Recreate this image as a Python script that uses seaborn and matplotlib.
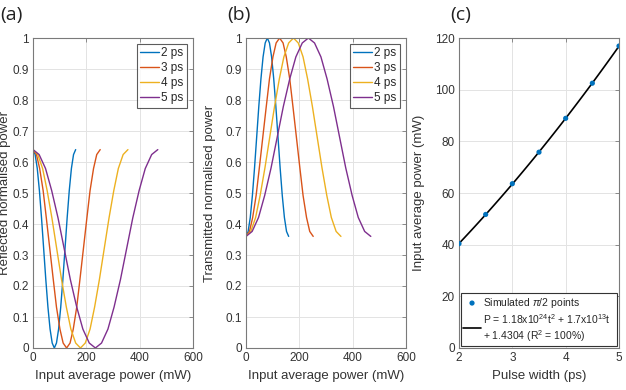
import numpy as np
import pandas as pd
import matplotlib
matplotlib.use("Agg")
import matplotlib.pyplot as plt
import seaborn as sns

# Durées d'impulsion et couleurs (palette MATLAB)
pulses = ["2 ps", "3 ps", "4 ps", "5 ps"]
colors = ["#0072BD", "#D95319", "#EDB120", "#7E2F8E"]

# Puissance moyenne d'entrée (mW) (a) et (b)
power_2ps = [0, 8, 16, 24, 32, 40, 48, 56, 64, 72, 80, 88, 96, 104, 112, 120, 128, 136, 144, 152, 160]
power_3ps = [0, 13, 25, 38, 50, 63, 76, 88, 101, 113, 126, 139, 151, 164, 176, 189, 202, 214, 227, 239, 252]
power_4ps = [0, 18, 36, 53, 71, 89, 107, 125, 142, 160, 178, 196, 214, 231, 249, 267, 285, 303, 320, 338, 356]
power_5ps = [0, 23, 47, 70, 94, 117, 140, 164, 187, 211, 234, 257, 281, 304, 328, 351, 374, 398, 421, 445, 468]

# Puissance normalisée (même profil pour chaque durée)
reflected = [0.640, 0.624, 0.579, 0.508, 0.419, 0.320, 0.221, 0.132, 0.061, 0.016, 0.000,
             0.016, 0.061, 0.132, 0.221, 0.320, 0.419, 0.508, 0.579, 0.624, 0.640]
transmitted = [0.360, 0.376, 0.421, 0.492, 0.581, 0.680, 0.779, 0.868, 0.939, 0.984, 1.000,
               0.984, 0.939, 0.868, 0.779, 0.680, 0.581, 0.492, 0.421, 0.376, 0.360]

# Points pi/2 simulés (c)
pulse_width = [2.0, 2.5, 3.0, 3.5, 4.0, 4.5, 5.0]
pi2_power = [40.4, 51.7, 63.6, 75.8, 88.9, 102.5, 116.9]

sns.set_theme(style="whitegrid")
plt.rcParams['font.family'] = ['Liberation Sans', 'DejaVu Sans']
plt.rcParams['mathtext.fontset'] = 'custom'
plt.rcParams['mathtext.rm'] = 'Liberation Sans'
plt.rcParams['mathtext.it'] = 'Liberation Sans:italic'

rows = []
for label, pw in zip(pulses, [power_2ps, power_3ps, power_4ps, power_5ps]):
    for p, r, t in zip(pw, reflected, transmitted):
        rows.append({'Pulse': label, 'Power': p, 'Reflected': r, 'Transmitted': t})
df = pd.DataFrame(rows)

fig = plt.figure(figsize=(6.26, 3.9), dpi=100)
W, H = 626, 390
def add_ax(x0, x1, y0=38, y1=348):
    return fig.add_axes([x0 / W, 1 - y1 / H, (x1 - x0) / W, (y1 - y0) / H])

ax_a = add_ax(33, 193)
ax_b = add_ax(246, 406)
ax_c = add_ax(459, 619)

def style(ax):
    ax.set_facecolor('white')
    ax.grid(True, color='#e3e3e3', linewidth=0.7)
    for s in ax.spines.values():
        s.set_color('#7a7a7a')
        s.set_linewidth(0.8)
    ax.tick_params(direction='in', length=3, width=0.6, color='#7a7a7a',
                   top=True, right=True, labelsize=8.5, labelcolor='#333333', pad=3)

# (a) puissance réfléchie
sns.lineplot(data=df, x='Power', y='Reflected', hue='Pulse', palette=colors, sort=False,
             linewidth=1.0, ax=ax_a)
# (b) puissance transmise
sns.lineplot(data=df, x='Power', y='Transmitted', hue='Pulse', palette=colors, sort=False,
             linewidth=1.0, ax=ax_b)

for ax, ylab, lx in [(ax_a, 'Reflected normalised power', -0.135),
                     (ax_b, 'Transmitted normalised power', -0.19)]:
    ax.set_xlim(0, 600)
    ax.set_ylim(0, 1)
    ax.set_xticks([0, 200, 400, 600])
    ax.set_yticks(np.arange(0, 1.01, 0.1))
    ax.set_yticklabels(['0', '0.1', '0.2', '0.3', '0.4', '0.5', '0.6', '0.7', '0.8', '0.9', '1'])
    ax.set_xlabel('Input average power (mW)', fontsize=9.5, color='#333333')
    ax.set_ylabel(ylab, fontsize=9.5, color='#333333')
    ax.yaxis.set_label_coords(lx, 0.5)
    style(ax)
    leg = ax.legend(loc='upper right', fontsize=8.5, frameon=True, fancybox=False,
                    handlelength=1.6, handletextpad=0.2, borderpad=0.3, labelspacing=0.25,
                    borderaxespad=0.5, edgecolor='#333333')
    leg.get_frame().set_linewidth(0.8)

# (c) points pi/2 et ajustement quadratique
sns.regplot(x=pulse_width, y=pi2_power, order=2, ci=None, scatter=False,
            line_kws={'color': 'black', 'linewidth': 1.2}, ax=ax_c,
            label='P = 1.18x10$^{24}$t$^2$ + 1.7x10$^{13}$t\n+ 1.4304 (R$^2$ = 100%)')
sns.scatterplot(x=pulse_width, y=pi2_power, color='#0072BD', s=14, edgecolor='none',
                ax=ax_c, label='Simulated $\\pi$/2 points', zorder=5)
ax_c.set_xlim(2, 5)
ax_c.set_ylim(0, 120)
ax_c.set_xticks([2, 3, 4, 5])
ax_c.set_yticks(np.arange(0, 121, 20))
ax_c.set_xlabel('Pulse width (ps)', fontsize=9.5, color='#333333')
ax_c.set_ylabel('Input average power (mW)', fontsize=9.5, color='#333333')
ax_c.yaxis.set_label_coords(-0.21, 0.5)
style(ax_c)
h, l = ax_c.get_legend_handles_labels()
leg = ax_c.legend(h[::-1], l[::-1], loc='lower left', bbox_to_anchor=(0, 0, 1, 1), mode='expand',
                  fontsize=7.5, frameon=True, fancybox=False, handlelength=1.7,
                  handletextpad=0.25, borderpad=0.25, labelspacing=0.2, borderaxespad=0.15,
                  edgecolor='#333333', framealpha=1)
leg.get_frame().set_linewidth(0.8)

# Étiquettes des panneaux
for x, txt in [(0, '(a)'), (227, '(b)'), (450, '(c)')]:
    fig.text(x / W, 1 - 15 / H, txt, fontsize=14, family=['Open Sans', 'DejaVu Sans'],
             ha='left', va='center', color='#222222')

plt.savefig('out.png', dpi=100)
